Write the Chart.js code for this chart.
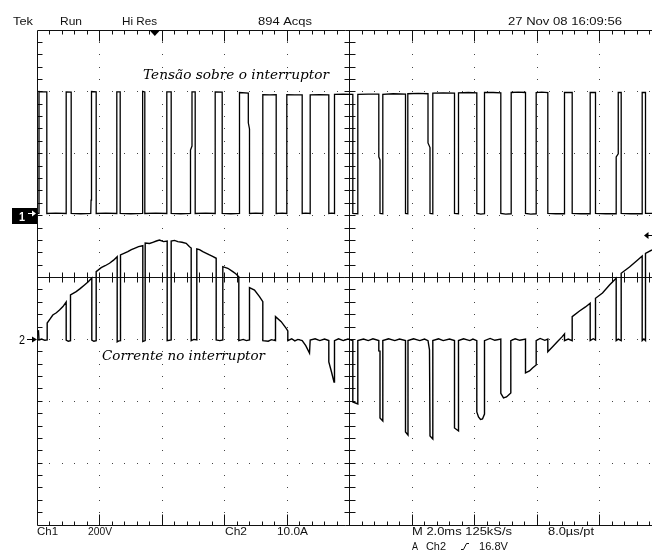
<!DOCTYPE html>
<html>
<head>
<meta charset="utf-8">
<title>Tensão e corrente no interruptor</title>
<script src="https://cdn.jsdelivr.net/npm/chart.js@4.4.1/dist/chart.umd.min.js"></script>
<style>
  html, body { margin: 0; padding: 0; background: #fff; overflow: hidden; }
  canvas { display: block; }
</style>
</head>
<body>
<canvas id="scope" width="652" height="557"></canvas>
<script>
// Channel 1 – voltage across the switch (time in ms, volts)
const ch1Time = [
  0, 0.064, 0.064, 0.2, 0.314, 0.314,
  0.6, 0.934, 0.934, 1.094, 1.094,
  1.4, 1.72, 1.73, 1.744, 1.744, 1.894, 1.894,
  2.2, 2.554, 2.554, 2.662, 2.662,
  3.0, 3.366, 3.37, 3.39, 3.45, 3.45,
  3.8, 4.154, 4.154, 4.294, 4.294,
  4.6, 4.912, 4.912, 4.96, 4.96, 5.062, 5.062,
  5.4, 5.702, 5.702, 5.926, 5.926,
  6.2, 6.48, 6.48, 6.762, 6.762, 6.8, 6.8,
  7.0, 7.226, 7.226, 7.45, 7.654, 7.654,
  7.85, 7.994, 7.994, 8.25, 8.486, 8.486,
  8.6, 8.742, 8.742, 9.05, 9.338, 9.338,
  9.43, 9.52, 9.52, 9.8, 10.106, 10.106,
  10.266, 10.266, 10.6, 10.938, 10.938, 10.976, 10.976,
  11.066, 11.066, 11.4, 11.792, 11.792,
  11.866, 11.866, 12.2, 12.512, 12.512, 12.576, 12.576,
  12.666, 12.666, 13.0, 13.36, 13.36,
  13.488, 13.488, 13.8, 14.074, 14.074,
  14.2, 14.32, 14.32, 14.6, 14.842, 14.842,
  15.0, 15.174, 15.174, 15.4, 15.632, 15.632,
  15.8, 15.974, 15.974, 16.15, 16.346, 16.346,
  16.6, 16.88, 16.88, 17.126, 17.126,
  17.4, 17.702, 17.702, 17.872, 17.872,
  18.2, 18.534, 18.534, 18.6, 18.6, 18.694, 18.694,
  19.0, 19.366, 19.366, 19.472, 19.472, 19.68
];
const ch1Volts = [
  7, 7, 401, 400, 400, 7,
  8, 7, 400, 399, 7,
  6, 7, 50, 60, 401, 400, 7,
  8, 7, 400, 400, 7,
  6, 7, 385, 402, 400, 7,
  8, 7, 400, 400, 7,
  6, 7, 212, 225, 400, 400, 7,
  8, 7, 400, 399, 7,
  6, 7, 398, 396, 300, 280, 7,
  8, 7, 391, 390, 391, 7,
  8, 7, 391, 390, 390, 7,
  8, 7, 390, 391, 390, 7,
  8, 7, 392, 393, 392, 7,
  6, 392, 393, 393, 190, 180, 7,
  6, 392, 394, 393, 7,
  6, 394, 395, 394, 235, 220, 7,
  6, 396, 397, 396, 7,
  6, 397, 398, 397, 7,
  5, 6, 398, 398, 397, 7,
  5, 6, 398, 399, 398, 7,
  5, 6, 398, 399, 398, 7,
  6, 6, 398, 398, 7,
  6, 6, 398, 398, 7,
  6, 6, 190, 200, 398, 398, 7,
  6, 6, 398, 398, 7, 7
];

// Channel 2 – current through the switch (time in ms, amperes)
const ch2Time = [
  0, 0.048, 0.064, 0.15, 0.25, 0.326,
  0.326, 0.42, 0.506, 0.62, 0.72, 0.83, 0.934,
  0.934, 1.0, 1.072,
  1.072, 1.254, 1.38, 1.52, 1.64, 1.754,
  1.754, 1.82, 1.894,
  1.894, 2.054, 2.18, 2.32, 2.45, 2.566,
  2.566, 2.62, 2.672,
  2.672, 2.906, 3.02, 3.12, 3.25, 3.386,
  3.386, 3.462,
  3.462, 3.6, 3.706, 3.82, 3.92, 4.05, 4.166,
  4.166, 4.294,
  4.294, 4.4, 4.506, 4.64, 4.774, 4.88, 4.934,
  4.934, 5.02, 5.114,
  5.114, 5.2, 5.306, 5.42, 5.52, 5.62, 5.734,
  5.734, 5.85, 5.946,
  5.946, 6.106, 6.266, 6.36, 6.458,
  6.458, 6.6, 6.7, 6.8,
  6.8, 6.96, 7.12, 7.226,
  7.226, 7.4, 7.5, 7.632,
  7.632, 7.814, 7.974, 8.026,
  8.026, 8.15, 8.25, 8.35, 8.486,
  8.6, 8.72, 8.742,
  8.9, 9.05, 9.2, 9.338,
  9.338, 9.42, 9.504, 9.52,
  9.65, 9.8, 9.95, 10.106,
  10.106, 10.266, 10.266,
  10.45, 10.6, 10.75, 10.938,
  10.938, 10.976, 10.976, 11.066, 11.066,
  11.25, 11.45, 11.6, 11.792,
  11.792, 11.872, 11.872,
  12.05, 12.25, 12.4, 12.512,
  12.56, 12.576, 12.666, 12.666,
  12.85, 13.0, 13.2, 13.36,
  13.36, 13.488, 13.488,
  13.65, 13.85, 13.95, 14.074,
  14.074, 14.128, 14.192, 14.256, 14.32, 14.32,
  14.5, 14.65, 14.842,
  14.842, 14.928, 15.024, 15.162, 15.162,
  15.3, 15.45, 15.632,
  15.632, 15.76, 15.856, 15.974, 15.974,
  16.1, 16.25, 16.346,
  16.346, 16.5, 16.65, 16.8, 16.88, 16.88,
  17.0, 17.126,
  17.126, 17.36, 17.552, 17.702, 17.702,
  17.8, 17.872,
  17.872, 18.096, 18.32, 18.534, 18.534,
  18.6, 18.694,
  18.694, 18.96, 19.184, 19.366, 19.366,
  19.42, 19.472,
  19.472, 19.68
];
const ch2Amps = [
  1.2, 1.36, -0.1, 0.05, -0.15, -0.1,
  2.65, 3.3, 3.94, 4.3, 4.75, 5.3, 6.04,
  -0.1, -0.3, -0.2,
  7.18, 7.71, 8.2, 8.79, 9.3, 9.92,
  -0.1, -0.3, -0.2,
  10.94, 11.59, 11.9, 12.3, 12.8, 13.36,
  -0.4, -0.25, -0.2,
  13.64, 14.17, 14.5, 14.72, 15.0, 15.14,
  -0.35, -0.2,
  15.58, 15.5, 15.69, 15.9, 16.06, 15.8, 15.89,
  -0.2, -0.1,
  15.89, 16.0, 15.79, 15.7, 15.53, 14.98, 14.77,
  -0.2, 0.0, -0.1,
  14.61, 14.5, 14.17, 13.9, 13.64, 13.4, 13.11,
  -0.1, -0.2, -0.1,
  11.75, 11.49, 10.94, 10.6, 10.13,
  -0.2, 0.0, -0.2, -0.1,
  8.35, 7.98, 6.9, 6.09,
  -0.2, -0.3, -0.05, -0.2,
  3.67, 2.86, 1.79, 1.36,
  -0.2, 0.1, -0.25, 0.0, -0.2,
  -1.0, -2.2, -0.1,
  0.1, -0.2, 0.05, -0.2,
  -3.65, -5.2, -6.88, -0.2,
  0.1, -0.2, 0.05, -0.2,
  -10.12, -10.44, -0.2,
  0.05, -0.2, 0.1, -0.2,
  -1.87, -1.9, -12.7, -13.19, -0.2,
  0.1, -0.2, 0.05, -0.2,
  -14.96, -15.45, -0.2,
  0.1, -0.2, 0.05, -0.2,
  -1.71, -15.61, -16.1, -0.2,
  0.1, -0.2, 0.05, -0.2,
  -14.32, -14.8, -0.2,
  0.1, -0.2, 0.05, -0.2,
  -11.73, -12.54, -12.94, -12.86, -12.06, -0.2,
  0.15, -0.15, 0.05,
  -8.71, -9.47, -9.31, -8.66, -0.2,
  0.1, -0.15, 0.05,
  -5.43, -5.11, -4.62, -4.14, -0.2,
  0.15, -0.15, 0.05,
  -1.99, -1.2, -0.4, 0.4, 0.87, -0.2,
  0.05, -0.2,
  3.67, 4.59, 5.24, 5.83, -0.2,
  0.1, -0.1,
  6.64, 7.5, 8.79, 9.87, -0.2,
  0.05, -0.2,
  10.68, 11.7, 12.67, 13.48, -0.2,
  0.05, -0.2,
  13.91, 14.45
];

// Screen settings
const msPerDiv = 2;        // horizontal
const voltsPerDiv = 200;   // Ch1
const ampsPerDiv = 10;     // Ch2
const ch1Position = 1;     // Ch1 ground, divisions above centre
const ch2Position = -1;    // Ch2 ground, divisions above centre
const triggerTime = 3.77;  // ms from left edge
const triggerLevel = 16.8; // A on Ch2
const visibleSpan = 19.68; // ms shown across the window

// Readout texts
const headerTexts = ['Tek', 'Run', 'Hi Res', '894 Acqs', '27 Nov 08 16:09:56'];
const footerTexts = ['Ch1', '200V', 'Ch2', '10.0A', 'M 2.0ms 125kS/s', '8.0\u00b5s/pt'];
const triggerTexts = ['A', 'Ch2', '16.8V'];
const traceLabels = ['Tens\u00e3o sobre o interruptor', 'Corrente no interruptor'];

const toPoints = (xs, ys) => xs.map((t, i) => ({ x: t, y: ys[i] }));

function fitText(ctx, s, x, y, w, font, color) {
  ctx.save();
  ctx.font = font;
  ctx.fillStyle = color || '#111';
  ctx.textBaseline = 'alphabetic';
  const m = ctx.measureText(s).width;
  ctx.translate(x, y);
  ctx.scale(w / m, 1);
  ctx.fillText(s, 0, 0);
  ctx.restore();
}

// Oscilloscope graticule: dotted divisions, centre cross and border ticks
const graticule = {
  id: 'graticule',
  beforeDatasetsDraw(chart) {
    const { ctx, chartArea: a, scales } = chart;
    const X = d => scales.x.getPixelForValue(d * msPerDiv);
    const Y = d => scales.yV.getPixelForValue((d - ch1Position) * voltsPerDiv);
    const snap = v => Math.floor(v) + 0.5;
    ctx.save();
    // dots
    ctx.fillStyle = '#444';
    for (let d = 1; d <= 9; d++) {
      if (d === 5) continue;
      const x = Math.floor(X(d));
      for (let k = -19; k <= 19; k++) {
        ctx.fillRect(x, Math.floor(Y(k / 5)), 1, 1);
      }
    }
    for (let d = -3; d <= 3; d++) {
      if (d === 0) continue;
      const y = Math.floor(Y(d));
      for (let k = 1; k <= 50; k++) {
        const x = X(k / 5);
        if (x > a.right) break;
        ctx.fillRect(Math.floor(x), y, 1, 1);
      }
    }
    ctx.strokeStyle = '#111';
    ctx.lineWidth = 1;
    ctx.beginPath();
    // border
    const L = snap(a.left), T = snap(a.top), B = snap(a.bottom);
    ctx.moveTo(a.right + 2, T); ctx.lineTo(L, T); ctx.lineTo(L, B); ctx.lineTo(a.right + 2, B);
    // centre cross
    const cx = snap(X(5)), cy = snap(Y(0));
    ctx.moveTo(cx, a.top); ctx.lineTo(cx, a.bottom);
    ctx.moveTo(a.left, cy); ctx.lineTo(a.right, cy);
    for (let k = 1; k <= 50; k++) {
      const x = X(k / 5);
      if (x > a.right) break;
      const sx = snap(x);
      const major = k % 5 === 0;
      ctx.moveTo(sx, T); ctx.lineTo(sx, T + (major ? 11 : 4));
      ctx.moveTo(sx, B); ctx.lineTo(sx, B - (major ? 11 : 4));
      ctx.moveTo(sx, cy - 5); ctx.lineTo(sx, cy + 5);
    }
    for (let k = -19; k <= 19; k++) {
      const sy = snap(Y(k / 5));
      ctx.moveTo(L, sy); ctx.lineTo(L + 5, sy);
      ctx.moveTo(cx - 5, sy); ctx.lineTo(cx + 6, sy);
    }
    ctx.stroke();
    ctx.restore();
  },
  afterDatasetsDraw(chart) {
    const { ctx, chartArea: a, scales } = chart;
    const g1 = scales.yV.getPixelForValue(0);
    const g2 = scales.yA.getPixelForValue(0);
    ctx.save();
    // Ch1 ground marker
    ctx.fillStyle = '#000';
    ctx.fillRect(12, Math.round(g1) - 8, a.left - 12, 16);
    fitText(ctx, '1', 19, Math.round(g1) + 5, 6, 'bold 12px "Liberation Sans", Arial, sans-serif', '#fff');
    ctx.strokeStyle = '#fff'; ctx.fillStyle = '#fff'; ctx.lineWidth = 1;
    ctx.beginPath(); ctx.moveTo(28, Math.floor(g1) - 1.5); ctx.lineTo(33, Math.floor(g1) - 1.5); ctx.stroke();
    ctx.beginPath(); ctx.moveTo(36, Math.floor(g1) - 1.5); ctx.lineTo(32, Math.floor(g1) - 4.5); ctx.lineTo(32, Math.floor(g1) + 1.5); ctx.closePath(); ctx.fill();
    // Ch2 ground marker
    fitText(ctx, '2', 19, Math.round(g2) + 5, 6, '12px "Liberation Sans", Arial, sans-serif', '#000');
    ctx.strokeStyle = '#000'; ctx.fillStyle = '#000';
    ctx.beginPath(); ctx.moveTo(27, Math.floor(g2) + 0.5); ctx.lineTo(33, Math.floor(g2) + 0.5); ctx.stroke();
    ctx.beginPath(); ctx.moveTo(37, Math.floor(g2) + 0.5); ctx.lineTo(32, Math.floor(g2) - 2.5); ctx.lineTo(32, Math.floor(g2) + 3.5); ctx.closePath(); ctx.fill();
    // trigger position
    const tx = scales.x.getPixelForValue(triggerTime);
    ctx.beginPath(); ctx.moveTo(tx - 5.5, a.top); ctx.lineTo(tx + 5.5, a.top); ctx.lineTo(tx, a.top + 6); ctx.closePath(); ctx.fill();
    // trigger level
    const ty = Math.floor(scales.yA.getPixelForValue(triggerLevel)) + 0.5;
    ctx.beginPath(); ctx.moveTo(644, ty); ctx.lineTo(648.5, ty - 3.5); ctx.lineTo(648.5, ty + 3.5); ctx.closePath(); ctx.fill();
    ctx.beginPath(); ctx.moveTo(647, ty); ctx.lineTo(652, ty); ctx.stroke();
    ctx.restore();
  },
  afterDraw(chart) {
    const ctx = chart.ctx;
    const f = '11px "Liberation Sans", Arial, sans-serif';
    // header readout
    fitText(ctx, headerTexts[0], 13, 25, 20, f);
    fitText(ctx, headerTexts[1], 60, 25, 22, f);
    fitText(ctx, headerTexts[2], 122, 25, 35, f);
    fitText(ctx, headerTexts[3], 258, 25, 54, f);
    fitText(ctx, headerTexts[4], 508, 25, 114, f);
    // footer readout
    fitText(ctx, footerTexts[0], 37, 535, 21, f);
    fitText(ctx, footerTexts[1], 88, 535, 24, f);
    fitText(ctx, footerTexts[2], 225, 535, 22, f);
    fitText(ctx, footerTexts[3], 277, 535, 31, f);
    fitText(ctx, footerTexts[4], 412, 535, 100, f);
    fitText(ctx, footerTexts[5], 548, 535, 46, f);
    fitText(ctx, triggerTexts[0], 412, 550, 6, f);
    fitText(ctx, triggerTexts[1], 426, 550, 20, f);
    fitText(ctx, triggerTexts[2], 479, 550, 29, f);
    // rising-edge slope symbol
    ctx.save();
    ctx.strokeStyle = '#111'; ctx.lineWidth = 1;
    ctx.beginPath();
    ctx.moveTo(461, 549.5); ctx.lineTo(463.5, 549.5); ctx.lineTo(466.5, 543.5); ctx.lineTo(469, 543.5);
    ctx.stroke();
    ctx.restore();
    // trace captions
    const fi = 'italic 13px "DejaVu Serif", serif';
    fitText(ctx, traceLabels[0], 143, 79, 186, fi, '#000');
    fitText(ctx, traceLabels[1], 102, 360, 163, fi, '#000');
  }
};

new Chart(document.getElementById('scope'), {
  type: 'line',
  data: {
    datasets: [
      {
        label: 'Ch1',
        data: toPoints(ch1Time, ch1Volts),
        yAxisID: 'yV',
        borderColor: '#000',
        borderWidth: 1.3,
        pointRadius: 0,
        tension: 0,
        fill: false
      },
      {
        label: 'Ch2',
        data: toPoints(ch2Time, ch2Amps),
        yAxisID: 'yA',
        borderColor: '#000',
        borderWidth: 1.4,
        pointRadius: 0,
        tension: 0,
        fill: false
      }
    ]
  },
  options: {
    responsive: false,
    animation: false,
    devicePixelRatio: 1,
    parsing: false,
    layout: { padding: { left: 37, top: 30, right: 0, bottom: 32 } },
    plugins: { legend: { display: false }, tooltip: { enabled: false }, title: { display: false } },
    scales: {
      x: { type: 'linear', min: 0, max: visibleSpan, display: false },
      yV: { type: 'linear', min: (-4 - ch1Position) * voltsPerDiv, max: (4 - ch1Position) * voltsPerDiv, display: false },
      yA: { type: 'linear', min: (-4 - ch2Position) * ampsPerDiv, max: (4 - ch2Position) * ampsPerDiv, display: false }
    }
  },
  plugins: [graticule]
});
</script>
</body>
</html>
